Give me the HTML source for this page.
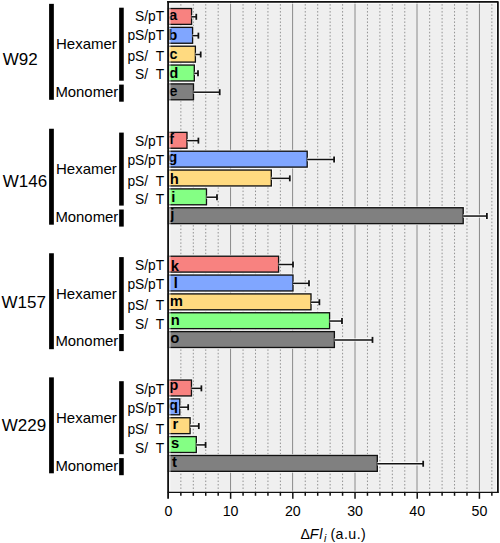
<!DOCTYPE html><html><head><meta charset="utf-8"><style>html,body{margin:0;padding:0;background:#fff;width:500px;height:543px;overflow:hidden}svg{display:block}text{font-family:"Liberation Sans",sans-serif;fill:#000}</style></head><body>
<svg width="500" height="543" viewBox="0 0 500 543">
<rect x="168.42" y="1.9" width="329.48" height="490.5" fill="#efefef"/>
<line x1="180.86" y1="492.4" x2="180.86" y2="3.4" stroke="#929292" stroke-width="1" stroke-dasharray="1.5 1.952"/>
<line x1="193.30" y1="492.4" x2="193.30" y2="3.4" stroke="#929292" stroke-width="1" stroke-dasharray="1.5 1.952"/>
<line x1="205.74" y1="492.4" x2="205.74" y2="3.4" stroke="#929292" stroke-width="1" stroke-dasharray="1.5 1.952"/>
<line x1="218.18" y1="492.4" x2="218.18" y2="3.4" stroke="#929292" stroke-width="1" stroke-dasharray="1.5 1.952"/>
<line x1="230.55" y1="1.9" x2="230.55" y2="492.4" stroke="#8a8a8a" stroke-width="1"/>
<line x1="243.06" y1="492.4" x2="243.06" y2="3.4" stroke="#929292" stroke-width="1" stroke-dasharray="1.5 1.952"/>
<line x1="255.50" y1="492.4" x2="255.50" y2="3.4" stroke="#929292" stroke-width="1" stroke-dasharray="1.5 1.952"/>
<line x1="267.94" y1="492.4" x2="267.94" y2="3.4" stroke="#929292" stroke-width="1" stroke-dasharray="1.5 1.952"/>
<line x1="280.38" y1="492.4" x2="280.38" y2="3.4" stroke="#929292" stroke-width="1" stroke-dasharray="1.5 1.952"/>
<line x1="292.60" y1="1.9" x2="292.60" y2="492.4" stroke="#8a8a8a" stroke-width="1"/>
<line x1="305.26" y1="492.4" x2="305.26" y2="3.4" stroke="#929292" stroke-width="1" stroke-dasharray="1.5 1.952"/>
<line x1="317.70" y1="492.4" x2="317.70" y2="3.4" stroke="#929292" stroke-width="1" stroke-dasharray="1.5 1.952"/>
<line x1="330.14" y1="492.4" x2="330.14" y2="3.4" stroke="#929292" stroke-width="1" stroke-dasharray="1.5 1.952"/>
<line x1="342.58" y1="492.4" x2="342.58" y2="3.4" stroke="#929292" stroke-width="1" stroke-dasharray="1.5 1.952"/>
<line x1="355.00" y1="1.9" x2="355.00" y2="492.4" stroke="#8a8a8a" stroke-width="1"/>
<line x1="367.46" y1="492.4" x2="367.46" y2="3.4" stroke="#929292" stroke-width="1" stroke-dasharray="1.5 1.952"/>
<line x1="379.90" y1="492.4" x2="379.90" y2="3.4" stroke="#929292" stroke-width="1" stroke-dasharray="1.5 1.952"/>
<line x1="392.34" y1="492.4" x2="392.34" y2="3.4" stroke="#929292" stroke-width="1" stroke-dasharray="1.5 1.952"/>
<line x1="404.78" y1="492.4" x2="404.78" y2="3.4" stroke="#929292" stroke-width="1" stroke-dasharray="1.5 1.952"/>
<line x1="417.00" y1="1.9" x2="417.00" y2="492.4" stroke="#8a8a8a" stroke-width="1"/>
<line x1="429.66" y1="492.4" x2="429.66" y2="3.4" stroke="#929292" stroke-width="1" stroke-dasharray="1.5 1.952"/>
<line x1="442.10" y1="492.4" x2="442.10" y2="3.4" stroke="#929292" stroke-width="1" stroke-dasharray="1.5 1.952"/>
<line x1="454.54" y1="492.4" x2="454.54" y2="3.4" stroke="#929292" stroke-width="1" stroke-dasharray="1.5 1.952"/>
<line x1="466.98" y1="492.4" x2="466.98" y2="3.4" stroke="#929292" stroke-width="1" stroke-dasharray="1.5 1.952"/>
<line x1="479.45" y1="1.9" x2="479.45" y2="492.4" stroke="#8a8a8a" stroke-width="1"/>
<line x1="491.86" y1="492.4" x2="491.86" y2="3.4" stroke="#929292" stroke-width="1" stroke-dasharray="1.5 1.952"/>
<rect x="168.42" y="8.50" width="23.18" height="15.9" fill="none" stroke="#fff" stroke-width="2.8" stroke-opacity="0.85"/>
<rect x="168.42" y="8.50" width="23.18" height="15.9" fill="#f88280" stroke="#111" stroke-width="1.35"/>
<path d="M191.60 16.80 H196.30 M196.30 13.80 V19.80" stroke="#fff" stroke-opacity="0.8" stroke-width="3.4" fill="none"/>
<line x1="191.60" y1="16.80" x2="196.30" y2="16.80" stroke="#111" stroke-width="1.5"/>
<line x1="196.30" y1="13.80" x2="196.30" y2="19.80" stroke="#111" stroke-width="1.8"/>
<text x="169.10" y="19.80" font-size="14.8" font-weight="bold">a</text>
<rect x="168.42" y="27.35" width="24.18" height="15.9" fill="none" stroke="#fff" stroke-width="2.8" stroke-opacity="0.85"/>
<rect x="168.42" y="27.35" width="24.18" height="15.9" fill="#80a6ff" stroke="#111" stroke-width="1.35"/>
<path d="M192.60 35.65 H198.40 M198.40 32.65 V38.65" stroke="#fff" stroke-opacity="0.8" stroke-width="3.4" fill="none"/>
<line x1="192.60" y1="35.65" x2="198.40" y2="35.65" stroke="#111" stroke-width="1.5"/>
<line x1="198.40" y1="32.65" x2="198.40" y2="38.65" stroke="#111" stroke-width="1.8"/>
<text x="168.20" y="39.50" font-size="14.8" font-weight="bold">b</text>
<rect x="168.42" y="46.20" width="26.98" height="15.9" fill="none" stroke="#fff" stroke-width="2.8" stroke-opacity="0.85"/>
<rect x="168.42" y="46.20" width="26.98" height="15.9" fill="#ffda80" stroke="#111" stroke-width="1.35"/>
<path d="M195.40 54.50 H200.70 M200.70 51.50 V57.50" stroke="#fff" stroke-opacity="0.8" stroke-width="3.4" fill="none"/>
<line x1="195.40" y1="54.50" x2="200.70" y2="54.50" stroke="#111" stroke-width="1.5"/>
<line x1="200.70" y1="51.50" x2="200.70" y2="57.50" stroke="#111" stroke-width="1.8"/>
<text x="169.20" y="59.00" font-size="14.8" font-weight="bold">c</text>
<rect x="168.42" y="65.05" width="25.88" height="15.9" fill="none" stroke="#fff" stroke-width="2.8" stroke-opacity="0.85"/>
<rect x="168.42" y="65.05" width="25.88" height="15.9" fill="#84ff84" stroke="#111" stroke-width="1.35"/>
<path d="M194.30 73.35 H198.00 M198.00 70.35 V76.35" stroke="#fff" stroke-opacity="0.8" stroke-width="3.4" fill="none"/>
<line x1="194.30" y1="73.35" x2="198.00" y2="73.35" stroke="#111" stroke-width="1.5"/>
<line x1="198.00" y1="70.35" x2="198.00" y2="76.35" stroke="#111" stroke-width="1.8"/>
<text x="169.20" y="77.90" font-size="14.8" font-weight="bold">d</text>
<rect x="168.42" y="83.90" width="25.08" height="15.9" fill="none" stroke="#fff" stroke-width="2.8" stroke-opacity="0.85"/>
<rect x="168.42" y="83.90" width="25.08" height="15.9" fill="#808080" stroke="#111" stroke-width="1.35"/>
<path d="M193.50 92.20 H219.70 M219.70 89.20 V95.20" stroke="#fff" stroke-opacity="0.8" stroke-width="3.4" fill="none"/>
<line x1="193.50" y1="92.20" x2="219.70" y2="92.20" stroke="#111" stroke-width="1.5"/>
<line x1="219.70" y1="89.20" x2="219.70" y2="95.20" stroke="#111" stroke-width="1.8"/>
<text x="169.20" y="95.50" font-size="14.8" font-weight="bold">e</text>
<rect x="168.42" y="132.35" width="18.58" height="15.9" fill="none" stroke="#fff" stroke-width="2.8" stroke-opacity="0.85"/>
<rect x="168.42" y="132.35" width="18.58" height="15.9" fill="#f88280" stroke="#111" stroke-width="1.35"/>
<path d="M187.00 140.65 H198.40 M198.40 137.65 V143.65" stroke="#fff" stroke-opacity="0.8" stroke-width="3.4" fill="none"/>
<line x1="187.00" y1="140.65" x2="198.40" y2="140.65" stroke="#111" stroke-width="1.5"/>
<line x1="198.40" y1="137.65" x2="198.40" y2="143.65" stroke="#111" stroke-width="1.8"/>
<text x="169.10" y="144.40" font-size="14.8" font-weight="bold">f</text>
<rect x="168.42" y="151.20" width="138.78" height="15.9" fill="none" stroke="#fff" stroke-width="2.8" stroke-opacity="0.85"/>
<rect x="168.42" y="151.20" width="138.78" height="15.9" fill="#80a6ff" stroke="#111" stroke-width="1.35"/>
<path d="M307.20 159.50 H334.10 M334.10 156.50 V162.50" stroke="#fff" stroke-opacity="0.8" stroke-width="3.4" fill="none"/>
<line x1="307.20" y1="159.50" x2="334.10" y2="159.50" stroke="#111" stroke-width="1.5"/>
<line x1="334.10" y1="156.50" x2="334.10" y2="162.50" stroke="#111" stroke-width="1.8"/>
<text x="168.20" y="162.00" font-size="14.8" font-weight="bold">g</text>
<rect x="168.42" y="170.05" width="102.88" height="15.9" fill="none" stroke="#fff" stroke-width="2.8" stroke-opacity="0.85"/>
<rect x="168.42" y="170.05" width="102.88" height="15.9" fill="#ffda80" stroke="#111" stroke-width="1.35"/>
<path d="M271.30 178.35 H289.80 M289.80 175.35 V181.35" stroke="#fff" stroke-opacity="0.8" stroke-width="3.4" fill="none"/>
<line x1="271.30" y1="178.35" x2="289.80" y2="178.35" stroke="#111" stroke-width="1.5"/>
<line x1="289.80" y1="175.35" x2="289.80" y2="181.35" stroke="#111" stroke-width="1.8"/>
<text x="169.80" y="184.20" font-size="14.8" font-weight="bold">h</text>
<rect x="168.42" y="188.90" width="38.08" height="15.9" fill="none" stroke="#fff" stroke-width="2.8" stroke-opacity="0.85"/>
<rect x="168.42" y="188.90" width="38.08" height="15.9" fill="#84ff84" stroke="#111" stroke-width="1.35"/>
<path d="M206.50 197.20 H217.00 M217.00 194.20 V200.20" stroke="#fff" stroke-opacity="0.8" stroke-width="3.4" fill="none"/>
<line x1="206.50" y1="197.20" x2="217.00" y2="197.20" stroke="#111" stroke-width="1.5"/>
<line x1="217.00" y1="194.20" x2="217.00" y2="200.20" stroke="#111" stroke-width="1.8"/>
<text x="171.20" y="202.40" font-size="14.8" font-weight="bold">i</text>
<rect x="168.42" y="207.75" width="294.78" height="15.9" fill="none" stroke="#fff" stroke-width="2.8" stroke-opacity="0.85"/>
<rect x="168.42" y="207.75" width="294.78" height="15.9" fill="#808080" stroke="#111" stroke-width="1.35"/>
<path d="M463.20 216.05 H486.90 M486.90 213.05 V219.05" stroke="#fff" stroke-opacity="0.8" stroke-width="3.4" fill="none"/>
<line x1="463.20" y1="216.05" x2="486.90" y2="216.05" stroke="#111" stroke-width="1.5"/>
<line x1="486.90" y1="213.05" x2="486.90" y2="219.05" stroke="#111" stroke-width="1.8"/>
<text x="170.20" y="219.30" font-size="14.8" font-weight="bold">j</text>
<rect x="168.42" y="256.20" width="110.18" height="15.9" fill="none" stroke="#fff" stroke-width="2.8" stroke-opacity="0.85"/>
<rect x="168.42" y="256.20" width="110.18" height="15.9" fill="#f88280" stroke="#111" stroke-width="1.35"/>
<path d="M278.60 264.50 H293.00 M293.00 261.50 V267.50" stroke="#fff" stroke-opacity="0.8" stroke-width="3.4" fill="none"/>
<line x1="278.60" y1="264.50" x2="293.00" y2="264.50" stroke="#111" stroke-width="1.5"/>
<line x1="293.00" y1="261.50" x2="293.00" y2="267.50" stroke="#111" stroke-width="1.8"/>
<text x="170.70" y="270.50" font-size="14.8" font-weight="bold">k</text>
<rect x="168.42" y="275.05" width="124.58" height="15.9" fill="none" stroke="#fff" stroke-width="2.8" stroke-opacity="0.85"/>
<rect x="168.42" y="275.05" width="124.58" height="15.9" fill="#80a6ff" stroke="#111" stroke-width="1.35"/>
<path d="M293.00 283.35 H309.00 M309.00 280.35 V286.35" stroke="#fff" stroke-opacity="0.8" stroke-width="3.4" fill="none"/>
<line x1="293.00" y1="283.35" x2="309.00" y2="283.35" stroke="#111" stroke-width="1.5"/>
<line x1="309.00" y1="280.35" x2="309.00" y2="286.35" stroke="#111" stroke-width="1.8"/>
<text x="173.80" y="288.40" font-size="14.8" font-weight="bold">l</text>
<rect x="168.42" y="293.90" width="142.58" height="15.9" fill="none" stroke="#fff" stroke-width="2.8" stroke-opacity="0.85"/>
<rect x="168.42" y="293.90" width="142.58" height="15.9" fill="#ffda80" stroke="#111" stroke-width="1.35"/>
<path d="M311.00 302.20 H319.40 M319.40 299.20 V305.20" stroke="#fff" stroke-opacity="0.8" stroke-width="3.4" fill="none"/>
<line x1="311.00" y1="302.20" x2="319.40" y2="302.20" stroke="#111" stroke-width="1.5"/>
<line x1="319.40" y1="299.20" x2="319.40" y2="305.20" stroke="#111" stroke-width="1.8"/>
<text x="169.80" y="305.50" font-size="14.8" font-weight="bold">m</text>
<rect x="168.42" y="312.75" width="161.18" height="15.9" fill="none" stroke="#fff" stroke-width="2.8" stroke-opacity="0.85"/>
<rect x="168.42" y="312.75" width="161.18" height="15.9" fill="#84ff84" stroke="#111" stroke-width="1.35"/>
<path d="M329.60 321.05 H342.00 M342.00 318.05 V324.05" stroke="#fff" stroke-opacity="0.8" stroke-width="3.4" fill="none"/>
<line x1="329.60" y1="321.05" x2="342.00" y2="321.05" stroke="#111" stroke-width="1.5"/>
<line x1="342.00" y1="318.05" x2="342.00" y2="324.05" stroke="#111" stroke-width="1.8"/>
<text x="170.80" y="325.40" font-size="14.8" font-weight="bold">n</text>
<rect x="168.42" y="331.60" width="165.98" height="15.9" fill="none" stroke="#fff" stroke-width="2.8" stroke-opacity="0.85"/>
<rect x="168.42" y="331.60" width="165.98" height="15.9" fill="#808080" stroke="#111" stroke-width="1.35"/>
<path d="M334.40 339.90 H372.50 M372.50 336.90 V342.90" stroke="#fff" stroke-opacity="0.8" stroke-width="3.4" fill="none"/>
<line x1="334.40" y1="339.90" x2="372.50" y2="339.90" stroke="#111" stroke-width="1.5"/>
<line x1="372.50" y1="336.90" x2="372.50" y2="342.90" stroke="#111" stroke-width="1.8"/>
<text x="170.20" y="342.60" font-size="14.8" font-weight="bold">o</text>
<rect x="168.42" y="380.05" width="23.08" height="15.9" fill="none" stroke="#fff" stroke-width="2.8" stroke-opacity="0.85"/>
<rect x="168.42" y="380.05" width="23.08" height="15.9" fill="#f88280" stroke="#111" stroke-width="1.35"/>
<path d="M191.50 388.35 H201.40 M201.40 385.35 V391.35" stroke="#fff" stroke-opacity="0.8" stroke-width="3.4" fill="none"/>
<line x1="191.50" y1="388.35" x2="201.40" y2="388.35" stroke="#111" stroke-width="1.5"/>
<line x1="201.40" y1="385.35" x2="201.40" y2="391.35" stroke="#111" stroke-width="1.8"/>
<text x="169.20" y="390.20" font-size="14.8" font-weight="bold">p</text>
<rect x="168.42" y="398.90" width="11.38" height="15.9" fill="none" stroke="#fff" stroke-width="2.8" stroke-opacity="0.85"/>
<rect x="168.42" y="398.90" width="11.38" height="15.9" fill="#80a6ff" stroke="#111" stroke-width="1.35"/>
<path d="M179.80 407.20 H188.20 M188.20 404.20 V410.20" stroke="#fff" stroke-opacity="0.8" stroke-width="3.4" fill="none"/>
<line x1="179.80" y1="407.20" x2="188.20" y2="407.20" stroke="#111" stroke-width="1.5"/>
<line x1="188.20" y1="404.20" x2="188.20" y2="410.20" stroke="#111" stroke-width="1.8"/>
<text x="169.10" y="410.00" font-size="14.8" font-weight="bold">q</text>
<rect x="168.42" y="417.75" width="21.68" height="15.9" fill="none" stroke="#fff" stroke-width="2.8" stroke-opacity="0.85"/>
<rect x="168.42" y="417.75" width="21.68" height="15.9" fill="#ffda80" stroke="#111" stroke-width="1.35"/>
<path d="M190.10 426.05 H198.80 M198.80 423.05 V429.05" stroke="#fff" stroke-opacity="0.8" stroke-width="3.4" fill="none"/>
<line x1="190.10" y1="426.05" x2="198.80" y2="426.05" stroke="#111" stroke-width="1.5"/>
<line x1="198.80" y1="423.05" x2="198.80" y2="429.05" stroke="#111" stroke-width="1.8"/>
<text x="172.50" y="429.20" font-size="14.8" font-weight="bold">r</text>
<rect x="168.42" y="436.60" width="27.88" height="15.9" fill="none" stroke="#fff" stroke-width="2.8" stroke-opacity="0.85"/>
<rect x="168.42" y="436.60" width="27.88" height="15.9" fill="#84ff84" stroke="#111" stroke-width="1.35"/>
<path d="M196.30 444.90 H205.60 M205.60 441.90 V447.90" stroke="#fff" stroke-opacity="0.8" stroke-width="3.4" fill="none"/>
<line x1="196.30" y1="444.90" x2="205.60" y2="444.90" stroke="#111" stroke-width="1.5"/>
<line x1="205.60" y1="441.90" x2="205.60" y2="447.90" stroke="#111" stroke-width="1.8"/>
<text x="171.10" y="448.20" font-size="14.8" font-weight="bold">s</text>
<rect x="168.42" y="455.45" width="208.88" height="15.9" fill="none" stroke="#fff" stroke-width="2.8" stroke-opacity="0.85"/>
<rect x="168.42" y="455.45" width="208.88" height="15.9" fill="#808080" stroke="#111" stroke-width="1.35"/>
<path d="M377.30 463.75 H423.20 M423.20 460.75 V466.75" stroke="#fff" stroke-opacity="0.8" stroke-width="3.4" fill="none"/>
<line x1="377.30" y1="463.75" x2="423.20" y2="463.75" stroke="#111" stroke-width="1.5"/>
<line x1="423.20" y1="460.75" x2="423.20" y2="466.75" stroke="#111" stroke-width="1.8"/>
<text x="172.10" y="467.20" font-size="14.8" font-weight="bold">t</text>
<path d="M169.9 491.2 V3.4 H496.4 V491.2 Z" fill="none" stroke="#fff" stroke-opacity="0.75" stroke-width="1"/>
<path d="M167.2 1.9 H497.9 V492.4" fill="none" stroke="#111" stroke-width="1.8" stroke-linejoin="round"/>
<line x1="167.67" y1="492.4" x2="498.79999999999995" y2="492.4" stroke="#111" stroke-width="1.3"/>
<line x1="168.1" y1="0.9999999999999999" x2="168.1" y2="498.8" stroke="#111" stroke-width="1.8"/>
<text x="168.42" y="516.2" font-size="14.2" text-anchor="middle">0</text>
<line x1="180.86" y1="492.4" x2="180.86" y2="495.8" stroke="#111" stroke-width="1.5"/>
<line x1="193.30" y1="492.4" x2="193.30" y2="495.8" stroke="#111" stroke-width="1.5"/>
<line x1="205.74" y1="492.4" x2="205.74" y2="495.8" stroke="#111" stroke-width="1.5"/>
<line x1="218.18" y1="492.4" x2="218.18" y2="495.8" stroke="#111" stroke-width="1.5"/>
<line x1="230.62" y1="492.4" x2="230.62" y2="498.8" stroke="#111" stroke-width="1.5"/>
<text x="230.62" y="516.2" font-size="14.2" text-anchor="middle">10</text>
<line x1="243.06" y1="492.4" x2="243.06" y2="495.8" stroke="#111" stroke-width="1.5"/>
<line x1="255.50" y1="492.4" x2="255.50" y2="495.8" stroke="#111" stroke-width="1.5"/>
<line x1="267.94" y1="492.4" x2="267.94" y2="495.8" stroke="#111" stroke-width="1.5"/>
<line x1="280.38" y1="492.4" x2="280.38" y2="495.8" stroke="#111" stroke-width="1.5"/>
<line x1="292.82" y1="492.4" x2="292.82" y2="498.8" stroke="#111" stroke-width="1.5"/>
<text x="292.82" y="516.2" font-size="14.2" text-anchor="middle">20</text>
<line x1="305.26" y1="492.4" x2="305.26" y2="495.8" stroke="#111" stroke-width="1.5"/>
<line x1="317.70" y1="492.4" x2="317.70" y2="495.8" stroke="#111" stroke-width="1.5"/>
<line x1="330.14" y1="492.4" x2="330.14" y2="495.8" stroke="#111" stroke-width="1.5"/>
<line x1="342.58" y1="492.4" x2="342.58" y2="495.8" stroke="#111" stroke-width="1.5"/>
<line x1="355.02" y1="492.4" x2="355.02" y2="498.8" stroke="#111" stroke-width="1.5"/>
<text x="355.02" y="516.2" font-size="14.2" text-anchor="middle">30</text>
<line x1="367.46" y1="492.4" x2="367.46" y2="495.8" stroke="#111" stroke-width="1.5"/>
<line x1="379.90" y1="492.4" x2="379.90" y2="495.8" stroke="#111" stroke-width="1.5"/>
<line x1="392.34" y1="492.4" x2="392.34" y2="495.8" stroke="#111" stroke-width="1.5"/>
<line x1="404.78" y1="492.4" x2="404.78" y2="495.8" stroke="#111" stroke-width="1.5"/>
<line x1="417.22" y1="492.4" x2="417.22" y2="498.8" stroke="#111" stroke-width="1.5"/>
<text x="417.22" y="516.2" font-size="14.2" text-anchor="middle">40</text>
<line x1="429.66" y1="492.4" x2="429.66" y2="495.8" stroke="#111" stroke-width="1.5"/>
<line x1="442.10" y1="492.4" x2="442.10" y2="495.8" stroke="#111" stroke-width="1.5"/>
<line x1="454.54" y1="492.4" x2="454.54" y2="495.8" stroke="#111" stroke-width="1.5"/>
<line x1="466.98" y1="492.4" x2="466.98" y2="495.8" stroke="#111" stroke-width="1.5"/>
<line x1="479.42" y1="492.4" x2="479.42" y2="498.8" stroke="#111" stroke-width="1.5"/>
<text x="479.42" y="516.2" font-size="14.2" text-anchor="middle">50</text>
<line x1="491.86" y1="492.4" x2="491.86" y2="495.8" stroke="#111" stroke-width="1.5"/>
<text x="300.6" y="538.8" font-size="14.2">Δ</text>
<text x="309.8" y="538.8" font-size="14.2" font-style="italic">F</text>
<text x="319.2" y="538.8" font-size="14.2" font-style="italic">l</text>
<text x="324.0" y="541.6" font-size="10.4" font-style="italic">i</text>
<text x="330.4" y="538.8" font-size="14.2" letter-spacing="0.45">(a.u.)</text>
<rect x="49.1" y="3.85" width="4.75" height="95.95"/>
<rect x="119.15" y="7.70" width="4.6" height="73"/>
<rect x="119.15" y="84.60" width="4.6" height="17.1"/>
<text x="2.8" y="65.0" font-size="17">W92</text>
<text x="56" y="49.30" font-size="15">Hexamer</text>
<text x="55.4" y="97.00" font-size="14.9">Monomer</text>
<text x="164.2" y="20.90" font-size="13.8" text-anchor="end">S/pT</text>
<text x="164.2" y="39.60" font-size="13.8" text-anchor="end">pS/pT</text>
<text x="164.2" y="60.70" font-size="13.8" text-anchor="end">pS/  T</text>
<text x="164.2" y="79.10" font-size="13.8" text-anchor="end">S/  T</text>
<rect x="49.1" y="128.75" width="4.75" height="95.95"/>
<rect x="119.15" y="132.60" width="4.6" height="73"/>
<rect x="119.15" y="209.50" width="4.6" height="17.1"/>
<text x="2.8" y="186.8" font-size="17">W146</text>
<text x="56" y="174.20" font-size="15">Hexamer</text>
<text x="55.4" y="221.90" font-size="14.9">Monomer</text>
<text x="164.2" y="145.80" font-size="13.8" text-anchor="end">S/pT</text>
<text x="164.2" y="164.50" font-size="13.8" text-anchor="end">pS/pT</text>
<text x="164.2" y="185.60" font-size="13.8" text-anchor="end">pS/  T</text>
<text x="164.2" y="204.00" font-size="13.8" text-anchor="end">S/  T</text>
<rect x="49.1" y="253.25" width="4.75" height="95.95"/>
<rect x="119.15" y="257.10" width="4.6" height="73"/>
<rect x="119.15" y="334.00" width="4.6" height="17.1"/>
<text x="1.5" y="307.5" font-size="17">W157</text>
<text x="56" y="298.70" font-size="15">Hexamer</text>
<text x="55.4" y="346.40" font-size="14.9">Monomer</text>
<text x="164.2" y="270.30" font-size="13.8" text-anchor="end">S/pT</text>
<text x="164.2" y="289.00" font-size="13.8" text-anchor="end">pS/pT</text>
<text x="164.2" y="310.10" font-size="13.8" text-anchor="end">pS/  T</text>
<text x="164.2" y="328.50" font-size="13.8" text-anchor="end">S/  T</text>
<rect x="49.1" y="377.35" width="4.75" height="95.95"/>
<rect x="119.15" y="381.20" width="4.6" height="73"/>
<rect x="119.15" y="458.10" width="4.6" height="17.1"/>
<text x="1.8" y="430.8" font-size="17">W229</text>
<text x="56" y="422.80" font-size="15">Hexamer</text>
<text x="55.4" y="470.50" font-size="14.9">Monomer</text>
<text x="164.2" y="394.40" font-size="13.8" text-anchor="end">S/pT</text>
<text x="164.2" y="413.10" font-size="13.8" text-anchor="end">pS/pT</text>
<text x="164.2" y="434.20" font-size="13.8" text-anchor="end">pS/  T</text>
<text x="164.2" y="452.60" font-size="13.8" text-anchor="end">S/  T</text>
</svg></body></html>
